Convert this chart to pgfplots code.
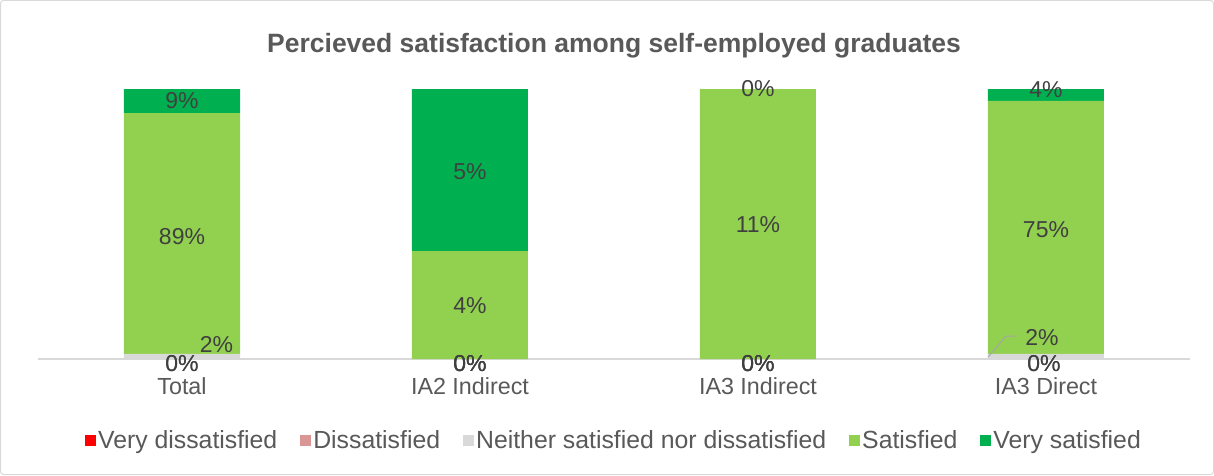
\documentclass[border=0pt]{standalone}
\usepackage{fontspec}
\setmainfont{Liberation Sans}
\usepackage{pgfplots}
\pgfplotsset{compat=1.18}
\definecolor{vd}{HTML}{FF0000}
\definecolor{dd}{HTML}{DA9694}
\definecolor{nn}{HTML}{D9D9D9}
\definecolor{ss}{HTML}{92D050}
\definecolor{vs}{HTML}{00B050}
\definecolor{txt}{HTML}{595959}
\definecolor{lbl}{HTML}{404040}
\begin{document}
\begin{tikzpicture}[x=1pt,y=1pt]
\draw[draw=nn, line width=1pt, rounded corners=3pt, fill=white] (0.5,0.5) rectangle (1213.5,474.5);
\begin{axis}[at={(38pt,116pt)}, anchor=south west, scale only axis,
  width=1152pt, height=270pt,
  ybar stacked, bar width=116pt,
  xmin=-0.5, xmax=3.5, ymin=0, ymax=100,
  axis y line=none, axis x line*=bottom,
  x axis line style={draw=nn, line width=1.5pt, -},
  xtick={0,1,2,3}, xticklabels={Total, IA2 Indirect, IA3 Indirect, IA3 Direct},
  major tick length=0pt,
  xticklabel style={font=\fontsize{23.3}{27}\selectfont, text=txt, yshift=-15pt},
  legend style={at={(0.5,-0.3)}, anchor=center, draw=none, fill=none,
    legend columns=5, font=\fontsize{24.8}{28}\selectfont, text=txt,
    /tikz/every even column/.append style={column sep=21pt}},
  legend image code/.code={\fill[#1] (0pt,-6pt) rectangle (11pt,5pt);},
]
\addplot[fill=vd, draw=none] coordinates {(0,0) (1,0) (2,0) (3,0)};
\addlegendentry{Very dissatisfied}
\addplot[fill=dd, draw=none] coordinates {(0,0) (1,0) (2,0) (3,0)};
\addlegendentry{Dissatisfied}
\addplot[fill=nn, draw=none] coordinates {(0,1.9) (1,0) (2,0) (3,1.9)};
\addlegendentry{Neither satisfied nor dissatisfied}
\addplot[fill=ss, draw=none] coordinates {(0,89.2) (1,40) (2,100) (3,93.7)};
\addlegendentry{Satisfied}
\addplot[fill=vs, draw=none] coordinates {(0,8.9) (1,60) (2,0) (3,4.4)};
\addlegendentry{Very satisfied}
\end{axis}
\begin{axis}[at={(38pt,116pt)}, anchor=south west, scale only axis,
  width=1152pt, height=270pt,
  xmin=-0.5, xmax=3.5, ymin=0, ymax=100, hide axis, clip=false,
  /pgf/number format/assume math mode=true]
\addplot[draw=black!35, line width=1pt] coordinates {(2.799,0.74) (2.861,8.5) (2.896,8.5)};
\addplot[draw=none, mark=none, point meta=explicit,
  nodes near coords={\pgfmathprintnumber{\pgfplotspointmeta}\%},
  every node near coord/.append style={anchor=center, inner sep=0pt,
    font=\fontsize{23}{27}\selectfont, text=lbl}]
  table[meta=v] {
x y v
0 95.6 9
0 45.2 89
0.12 5.2 2
0 -1.8 0
0 -1.8 0
1 69.3 5
1 19.6 4
1 -1.8 0
1 -1.8 0
1 -1.8 0
2 100 0
2 49.6 11
2 -1.8 0
2 -1.8 0
2 -1.8 0
3 99.6 4
3 48.1 75
2.986 8.1 2
2.993 -1.8 0
2.993 -1.8 0
};
\end{axis}
\node[font=\fontsize{26.5}{31}\selectfont\bfseries, text=txt] at (614,429) {Percieved satisfaction among self-employed graduates};
\end{tikzpicture}
\end{document}
